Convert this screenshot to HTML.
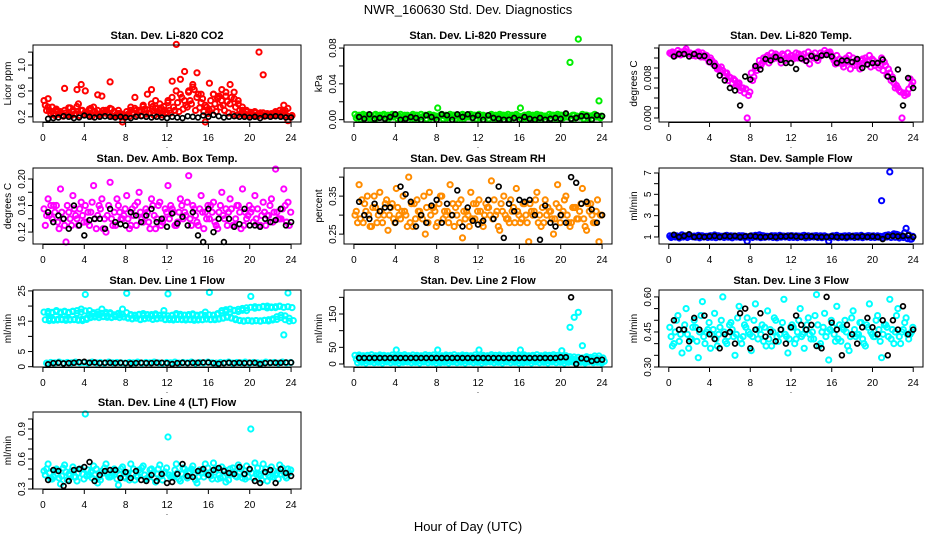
<!DOCTYPE html>
<html><head><meta charset="utf-8"><title>NWR_160630 Std. Dev. Diagnostics</title>
<style>
html,body{margin:0;padding:0;background:#fff;}
svg{display:block;font-family:"Liberation Sans",Arial,sans-serif;}
</style></head>
<body>
<svg id="chart" width="936" height="540" viewBox="0 0 936 540" xmlns="http://www.w3.org/2000/svg">
<rect x="0" y="0" width="936" height="540" fill="#fff"/>
<text x="468" y="14" text-anchor="middle" font-size="13">NWR_160630  Std. Dev. Diagnostics</text>
<text x="468" y="531" text-anchor="middle" font-size="13">Hour of Day (UTC)</text>
</svg>
<script>
// ---------- data (hour-of-day series; colored = all readings, black = reference readings) ----------
const hourTicks = [0,4,8,12,16,20,24];

const co2Red1 = [.45,.48,.35,.30,.28,.64,.26,.30,.62,.70, .60,.30,.35,.54,.52,.30,.74,.28,.30,.12, .28,.35,.50,.30,.38,.55,.62,.45,.40,.30, .45,.75,1.32,.78,.90,.60,.70,.88,.55,.12, .72,.55,.50,.62,.58,.70,.48,.40,.30,.28, .25,.26,1.20,.85,.22,.25,.28,.30,.38,.14];
const co2Red2 = [.38,.30,.25,.28,.22,.26,.34,.24,.40,.30, .26,.33,.28,.24,.30,.26,.32,.22,.25,.20, .24,.26,.30,.28,.32,.25,.36,.28,.34,.25, .30,.35,.42,.50,.38,.45,.62,.55,.48,.35, .45,.40,.52,.38,.44,.50,.35,.30,.26,.22, .24,.22,.26,.21,.24,.22,.25,.23,.30,.20];
const co2Red3 = [.30,.25,.22,.24,.21,.23,.22,.25,.22,.24, .23,.21,.25,.22,.26,.23,.21,.24,.22,.22, .21,.25,.23,.22,.24,.26,.22,.25,.23,.27, .26,.30,.28,.32,.35,.40,.30,.34,.28,.25, .32,.28,.35,.30,.26,.24,.22,.25,.23,.22, .22,.21,.23,.22,.24,.22,.25,.28,.22,.20];
const co2Red4 = [.35,.28,.32,.26,.30,.34,.28,.36,.30,.27, .32,.28,.30,.26,.29,.33,.28,.25,.24,.22, .30,.33,.28,.36,.31,.40,.33,.30,.36,.42, .50,.60,.55,.45,.58,.66,.50,.42,.38,.30, .55,.48,.45,.52,.40,.58,.45,.35,.30,.27, .28,.24,.26,.25,.23,.27,.24,.26,.33,.22];
const co2Black = [.17,.18,.19,.21,.20,.18,.19,.22,.20,.19,.20,.21,.20,.19,.20,.19,.18,.20,.21,.20,.19,.20,.19,.18,.20,.19,.18,.21,.20,.19,.22,.20,.23,.21,.19,.20,.21,.20,.20,.19,.20,.18,.21,.20,.21,.20,.19,.19];

const presGreen1 = [.006,.005,.006,.005,.004,.006,.005,.006,.005,.006, .005,.006,.005,.004,.006,.005,.006,.005,.006,.005, .013,.006,.005,.006,.005,.004,.006,.005,.006,.005, .006,.005,.004,.006,.005,.006,.005,.006,.005,.006, .013,.005,.006,.005,.006,.005,.004,.006,.005,.006, .005,.006,.064,.005,.090,.006,.005,.004,.006,.021];
const presGreen2 = [.002,.001,.003,.002,.001,.002,.003,.001,.002,.003, .001,.002,.003,.002,.001,.002,.003,.001,.002,.002, .003,.001,.002,.003,.001,.002,.001,.003,.002,.001, .002,.003,.001,.002,.001,.002,.003,.001,.002,.003, .001,.002,.003,.002,.001,.002,.003,.001,.002,.001, .002,.003,.001,.002,.003,.001,.002,.001,.003,.002];
const presGreen3 = [.004,.005,.004,.003,.005,.004,.005,.003,.004,.005, .004,.003,.005,.004,.005,.003,.004,.005,.004,.004, .005,.004,.003,.005,.004,.005,.003,.004,.005,.004, .003,.004,.005,.003,.004,.005,.004,.003,.005,.004, .004,.005,.003,.004,.005,.004,.003,.005,.004,.005, .004,.003,.005,.004,.003,.005,.004,.005,.003,.004];
const presBlack = [.003,.001,.006,.001,.002,.001,.003,.006,.000,.001,.003,.002,.000,.005,.003,.000,.006,.005,.000,.006,.003,.006,.002,.005,.000,.005,.002,.001,.000,.000,.002,.000,.003,.001,.000,.002,.000,.001,.002,.001,.007,.001,.002,.004,.004,.000,.005,.004];

const tempMag1 = [.013,.013,.0135,.0132,.0138,.013,.0128,.0132,.013,.0125, .012,.011,.010,.0095,.009,.008,.0075,.007,.006,.000, .009,.010,.0115,.012,.0125,.013,.0128,.012,.0125,.013, .0125,.013,.012,.0128,.0132,.0125,.012,.013,.0135,.013, .012,.0125,.011,.0118,.0125,.012,.0105,.0115,.012,.0125, .0115,.011,.012,.0105,.009,.007,.006,.000,.005,.0078];
const tempMag2 = [.0128,.0125,.013,.0128,.0132,.0126,.0124,.0127,.0122,.0118, .0115,.0105,.0095,.0085,.0075,.007,.0065,.0055,.005,.0045, .0075,.0095,.0105,.0115,.011,.0118,.012,.011,.0115,.012, .0118,.012,.0125,.0115,.0108,.012,.0115,.0125,.0128,.0132, .0115,.011,.0108,.012,.0098,.0105,.0112,.0118,.0108,.0102, .0105,.010,.0095,.0085,.0075,.006,.0055,.005,.0048,.0065];
const tempMag3 = [.0132,.0128,.0126,.0134,.0128,.0125,.013,.0122,.0126,.0112, .0108,.0098,.0102,.009,.0082,.0078,.0068,.006,.0058,.0052, .0082,.0105,.011,.0122,.0118,.0125,.0122,.0128,.012,.0124, .0122,.0128,.0118,.0122,.0126,.013,.0122,.0128,.013,.0126, .0108,.0118,.0102,.0112,.011,.0115,.0098,.011,.0115,.0118, .011,.0105,.0112,.0098,.0082,.0065,.0052,.0045,.0058,.0072];
const tempBlack = [.0123,.0128,.0128,.0123,.0128,.0124,.0124,.0112,.0104,.0085,.0075,.006,.0055,.0025,.0083,.0077,.0104,.0097,.0118,.0115,.0122,.0116,.0110,.0110,.0098,.0119,.0114,.0124,.0120,.0125,.0126,.0123,.0110,.0115,.0115,.0112,.0118,.0100,.0107,.0110,.0110,.0117,.0083,.0078,.0097,.0025,.0080,.0060];

const ambMag1 = [.155,.17,.14,.16,.185,.13,.15,.175,.14,.165, .16,.13,.19,.145,.17,.12,.195,.15,.16,.14, .175,.13,.16,.18,.135,.15,.17,.125,.165,.14, .19,.155,.13,.17,.15,.205,.16,.135,.175,.15, .14,.165,.125,.18,.155,.17,.13,.16,.185,.14, .15,.175,.13,.165,.145,.17,.215,.14,.185,.165];
const ambMag2 = [.13,.145,.16,.135,.15,.105,.14,.155,.13,.145, .135,.15,.14,.16,.125,.145,.14,.13,.15,.145, .14,.155,.13,.15,.145,.135,.16,.14,.13,.155, .14,.15,.135,.16,.145,.14,.155,.13,.15,.14, .16,.135,.15,.145,.13,.155,.14,.15,.13,.145, .155,.14,.13,.15,.145,.135,.15,.14,.16,.13];
const ambMag3 = [.145,.16,.15,.125,.14,.16,.13,.145,.155,.135, .15,.165,.125,.155,.14,.16,.13,.17,.14,.155, .125,.145,.165,.14,.155,.125,.145,.16,.135,.15, .16,.13,.15,.14,.165,.13,.145,.155,.125,.16, .15,.13,.16,.14,.15,.13,.16,.125,.15,.16, .135,.155,.145,.13,.16,.15,.14,.155,.135,.15];
const ambBlack = [.15,.135,.145,.14,.125,.16,.13,.115,.138,.14,.14,.125,.155,.135,.132,.13,.15,.145,.135,.145,.155,.135,.14,.128,.148,.133,.143,.13,.15,.115,.105,.155,.12,.14,.105,.14,.128,.132,.155,.13,.13,.128,.14,.135,.138,.155,.13,.135];

const rhOrange1 = [.30,.38,.28,.35,.27,.32,.36,.30,.26,.33, .37,.29,.31,.40,.27,.34,.30,.25,.36,.32, .28,.35,.30,.38,.27,.33,.24,.31,.36,.29, .34,.27,.32,.39,.30,.26,.35,.29,.31,.37, .28,.33,.23,.30,.36,.27,.34,.31,.25,.38, .30,.35,.27,.32,.29,.37,.26,.33,.28,.23];
const rhOrange2 = [.31,.29,.33,.30,.32,.28,.31,.33,.30,.29, .32,.31,.30,.28,.33,.31,.29,.32,.30,.31, .33,.29,.31,.30,.32,.28,.31,.30,.29,.33, .31,.30,.32,.29,.31,.33,.30,.28,.32,.31, .29,.30,.33,.31,.28,.32,.30,.31,.29,.32, .31,.30,.28,.32,.31,.29,.33,.30,.31,.30];
const rhOrange3 = [.28,.34,.31,.27,.35,.30,.28,.34,.32,.28, .30,.35,.27,.33,.29,.31,.35,.28,.32,.27, .35,.31,.28,.33,.30,.34,.29,.27,.33,.31, .28,.33,.30,.34,.27,.31,.29,.34,.28,.30, .33,.28,.31,.34,.30,.28,.32,.29,.33,.28, .34,.28,.32,.29,.33,.27,.31,.28,.34,.30];
const rhBlack = [.335,.30,.29,.33,.31,.32,.32,.28,.375,.355,.335,.27,.30,.28,.325,.34,.28,.33,.30,.365,.27,.32,.285,.275,.285,.34,.29,.375,.24,.33,.31,.34,.335,.34,.30,.235,.325,.28,.27,.30,.28,.40,.385,.33,.335,.315,.28,.30];

const sampBlue1 = [1.1,1.15,1.05,1.2,1.1,1.12,1.08,1.15,1.1,1.05, 1.12,1.18,1.1,1.05,1.15,1.1,1.08,1.12,1.1,0.6, 1.1,1.15,1.2,1.1,1.05,1.12,1.1,1.15,1.08,1.1, 1.12,1.1,1.05,1.15,1.1,1.08,1.12,1.1,1.1,0.6, 1.1,1.15,1.05,1.1,1.12,1.08,1.1,1.15,1.05,1.1, 1.1,1.1,4.4,1.15,7.1,1.3,1.2,1.1,1.8,0.8];
const sampBlue2 = [0.95,1.0,0.9,1.0,0.95,1.05,0.98,0.92,1.0,0.95, 0.97,0.93,1.0,0.95,0.98,0.92,1.0,0.96,0.94,0.98, 0.95,1.0,0.93,0.97,1.0,0.95,0.92,0.98,1.0,0.95, 0.96,0.94,1.0,0.92,0.97,1.0,0.95,0.93,0.98,0.95, 1.0,0.94,0.97,0.92,1.0,0.95,0.98,0.93,1.0,0.96, 0.95,0.98,0.92,1.0,0.95,0.97,0.9,0.95,0.85,0.8];
const sampBlue3 = [1.05,1.1,1.0,1.08,1.12,1.02,1.06,1.1,1.04,1.08, 1.02,1.1,1.06,1.12,1.04,1.08,1.02,1.1,1.06,1.04, 1.08,1.02,1.12,1.06,1.04,1.1,1.02,1.08,1.06,1.1, 1.04,1.08,1.12,1.02,1.06,1.1,1.04,1.08,1.02,1.06, 1.1,1.04,1.08,1.06,1.02,1.1,1.06,1.04,1.12,1.08, 1.02,1.06,1.1,1.2,1.15,1.25,1.1,1.4,1.2,1.05];
const sampBlack = [1.2,1.0,1.1,1.25,1.0,1.05,1.0,1.05,1.1,1.0,1.1,1.05,1.1,1.0,1.05,1.1,1.05,1.0,1.0,1.05,1.0,1.05,1.05,1.1,1.05,1.0,1.05,1.05,1.0,1.0,1.0,1.05,1.0,1.0,1.0,1.05,1.0,1.05,1.0,1.05,1.0,0.8,1.05,1.1,1.05,1.1,1.15,1.0];

const l1Cyan1 = [18,18.2,17.8,18.5,18,18.3,17.9,18.2,18.5,19, 23.8,18.5,17.5,18,19,17.5,17.8,17,17.5,19, 24.2,17.2,17,17.3,17.5,17,17.2,17.4,17,18.5, 24,17,17.5,17.3,17,17.2,17.4,17,17.2,18, 24.5,17,17.5,18.5,18.8,19,18.5,18.2,18.6,18.5, 23.2,19.8,19.5,19.8,20,19.5,19.8,20,10.5,24.3];
const l1Cyan2 = [15.5,15.8,15.3,15.6,15.5,15.8,15.4,15.6,15.5,15.2, 16,16.5,16.8,17,16.5,16.8,16.2,16.5,17,16.5, 16,15.8,16,15.5,15.8,16,15.6,15.8,16,15.5, 15.5,15.8,15.6,15.5,15.8,15.5,15.3,15.6,15.5,15.8, 15.6,15.5,15.8,16,16.5,16,15.5,15.2,15,15.3, 15,15.2,15,15.3,15.5,15.8,16.5,17,15.5,15];
const l1Cyan3 = [1.2,1.4,1.3,1.5,1.2,1.4,1.3,1.5,1.3,1.4, 1.2,1.5,1.3,1.4,1.2,1.5,1.3,1.4,1.3,1.2, 1.4,1.3,1.5,1.2,1.4,1.3,1.5,1.3,1.2,1.4, 1.3,1.5,1.2,1.4,1.3,1.5,1.2,1.4,1.3,1.5, 1.3,1.2,1.4,1.3,1.5,1.2,1.4,1.3,1.5,1.2, 1.4,1.3,1.2,1.5,1.3,1.4,1.2,1.5,1.3,1.4];
const l1Cyan4 = [17.6,17.9,18.2,17.7,18.1,17.8,18.3,17.6,18,18.4, 17.2,17.8,17.3,17.6,17.9,17.4,17.1,17.6,17.3,17.8, 17,16.8,17.1,16.9,17.2,16.8,17,16.9,17.1,16.8, 16.9,17.1,16.8,17,16.9,17.1,16.8,17,16.9,17.1, 17,17.3,17.8,18.2,18,18.6,18.9,19.2,19.4,19.6, 19.3,19.6,19.9,19.4,19.7,19.5,19.9,19.6,19.8,19.5];
const l1Cyan5 = [15.2,15.6,15.4,15.7,15.3,15.6,15.5,15.3,15.7,15.6, 16.2,16.4,16.2,16.6,16.3,16.4,16.7,16.2,16.4,16.2, 15.8,16.1,15.7,15.9,16.1,15.7,15.9,16.1,15.7,15.9, 15.4,15.6,15.7,15.4,15.6,15.7,15.4,15.5,15.7,15.5, 15.8,15.7,16.1,16.3,16.1,15.8,15.3,15.1,15.2,15.1, 15.2,15.1,15.3,15.1,15.4,15.6,16.2,16.8,16,15.2];
const l1Black = [0.8,1.2,1.3,1.1,1.2,1.3,1.5,1.6,1.3,1.4,1.2,1.3,1.3,1.2,1.3,1.2,1.1,1.2,1.3,1.2,1.2,1.3,1.3,1.2,0.9,1.2,1.3,1.2,1.3,1.3,1.4,1.4,1.2,1.0,1.2,1.3,1.2,1.3,1.2,1.3,1.3,0.9,1.2,1.3,1.3,1.3,1.4,1.4];

const l2Cyan1 = [26,27,25,26,28,25,27,26,25,27, 42,26,28,25,27,26,25,28,26,27, 42,25,27,26,28,25,27,26,25,27, 42,26,25,28,26,27,25,26,28,26, 42,27,25,26,28,25,27,26,28,26, 40,25,110,140,155,55,22,20,24,24];
const l2Cyan2 = [15,14,16,15,14,16,15,14,15,16, 14,15,16,14,15,16,15,14,16,15, 15,14,16,15,14,16,15,14,15,16, 14,15,16,14,15,16,15,14,16,15, 15,14,16,15,14,16,15,14,15,16, 14,15,16,14,12,10,12,14,10,12];
const l2Cyan3 = [4,5,3,6,4,5,3,6,4,5, 3,5,6,4,5,3,6,4,5,3, 4,5,3,6,4,5,3,6,4,5, 3,5,6,4,5,3,6,4,5,3, 4,5,3,6,4,5,3,6,4,5, 3,5,6,4,5,3,6,4,5,3];
const l2Cyan4 = [22,21,23,20,22,21,23,22,20,21, 23,22,21,20,22,23,21,22,20,23, 21,22,23,20,21,22,23,21,20,22, 23,21,22,20,23,21,22,23,20,21, 22,21,23,20,22,21,23,22,20,21, 23,22,21,20,18,16,18,17,16,18];
const l2Cyan5 = [9,10,8,11,9,10,8,11,9,10, 8,10,11,9,10,8,11,9,10,8, 9,10,8,11,9,10,8,11,9,10, 8,10,11,9,10,8,11,9,10,8, 9,10,8,11,9,10,8,11,9,10, 8,10,11,9,7,6,8,7,6,8];
const l2Black = [18,18,18,18,18,18,18,18,18,18,18,18,18,18,18,18,18,18,18,18,18,18,18,18,18,18,18,18,18,18,18,18,18,18,18,18,18,18,18,20,20,200,0,17,15,9,12,13];

const l3Cyan1 = [.47,.40,.52,.36,.55,.42,.50,.34,.58,.45, .38,.53,.44,.60,.40,.49,.35,.56,.43,.51, .37,.57,.46,.41,.54,.39,.50,.44,.59,.36, .48,.42,.55,.38,.51,.45,.61,.40,.53,.33, .47,.56,.41,.50,.37,.54,.44,.49,.39,.57, .43,.52,.34,.48,.59,.40,.55,.45,.51,.44];
const l3Cyan2 = [.43,.45,.41,.46,.44,.42,.47,.45,.43,.46, .44,.42,.47,.45,.43,.46,.44,.42,.48,.45, .43,.46,.44,.47,.42,.45,.43,.46,.44,.42, .47,.45,.43,.46,.44,.42,.48,.45,.43,.46, .44,.42,.47,.45,.43,.46,.44,.42,.48,.45, .43,.46,.44,.47,.42,.45,.43,.46,.44,.45];
const l3Cyan3 = [.39,.50,.44,.48,.38,.47,.41,.52,.40,.49, .46,.39,.50,.41,.48,.43,.51,.40,.47,.44, .50,.42,.48,.39,.46,.51,.41,.49,.43,.47, .40,.50,.44,.48,.42,.52,.39,.47,.45,.50, .41,.48,.46,.39,.51,.43,.49,.40,.47,.44, .50,.41,.48,.43,.46,.52,.40,.49,.42,.47];
const l3Black = [.50,.46,.46,.41,.51,.46,.52,.44,.42,.38,.44,.45,.40,.53,.55,.38,.46,.53,.43,.45,.41,.46,.40,.47,.52,.48,.46,.48,.39,.38,.60,.49,.46,.35,.48,.44,.40,.47,.51,.47,.44,.50,.35,.50,.46,.56,.44,.46];

const l4Cyan1 = [.48,.55,.40,.50,.35,.54,.45,.52,.38,.50, 1.05,.44,.53,.36,.48,.55,.42,.50,.34,.52, .46,.55,.39,.49,.53,.41,.50,.37,.54,.46, .82,.43,.55,.38,.50,.46,.53,.36,.49,.55, .44,.56,.40,.52,.37,.50,.47,.54,.41,.53, .90,.56,.45,.55,.38,.52,.44,.54,.47,.50];
const l4Cyan2 = [.44,.46,.42,.45,.43,.47,.44,.42,.46,.45, .43,.47,.44,.42,.46,.45,.43,.47,.44,.42, .46,.45,.43,.47,.44,.42,.46,.45,.43,.47, .44,.42,.46,.45,.43,.47,.44,.42,.46,.45, .43,.47,.44,.42,.46,.45,.43,.47,.44,.42, .46,.45,.43,.47,.44,.42,.46,.45,.43,.46];
const l4Cyan3 = [.50,.40,.49,.41,.51,.39,.48,.42,.50,.40, .49,.41,.50,.39,.51,.42,.48,.40,.50,.41, .39,.50,.42,.51,.40,.49,.41,.50,.39,.51, .42,.49,.40,.51,.41,.50,.39,.49,.42,.51, .40,.50,.41,.49,.39,.51,.42,.50,.40,.49, .41,.51,.39,.50,.42,.48,.40,.51,.41,.49];
const l4Black = [.39,.49,.48,.33,.38,.49,.50,.52,.57,.38,.44,.48,.49,.49,.41,.47,.41,.48,.39,.38,.44,.38,.45,.36,.37,.45,.55,.43,.42,.48,.50,.44,.49,.51,.48,.46,.45,.52,.45,.50,.38,.36,.47,.49,.36,.50,.46,.43];

// ---------- panel configuration (tick values for each y axis) ----------
const yTicksCO2 = [0.2,0.4,0.6,0.8,1.0,1.2],        yLabCO2 = ["0.2","","0.6","","1.0",""];
const yTicksPres = [0,0.02,0.04,0.06,0.08],         yLabPres = ["0.00","","0.04","","0.08"];
const yTicksTemp = [0,0.002,0.004,0.006,0.008,0.010,0.012,0.014], yLabTemp = ["0.000","","","","0.008","","",""];
const yTicksAmb = [0.12,0.14,0.16,0.18,0.20],       yLabAmb = ["0.12","","0.16","","0.20"];
const yTicksRH = [0.25,0.30,0.35,0.40],             yLabRH = ["0.25","","0.35",""];
const yTicksSamp = [1,2,3,4,5,6,7],                 yLabSamp = ["1","","3","","5","","7"];
const yTicksL1 = [0,5,10,15,20,25],                 yLabL1 = ["0","5","","15","","25"];
const yTicksL2 = [0,50,100,150,200],                yLabL2 = ["0","50","","150",""];
const yTicksL3 = [0.30,0.35,0.40,0.45,0.50,0.55,0.60], yLabL3 = ["0.30","","","0.45","","","0.60"];
const yTicksL4 = [0.3,0.4,0.5,0.6,0.7,0.8,0.9,1.0], yLabL4 = ["0.3","","","0.6","","","0.9",""];

const cols = [[33,301],[344,612],[659,923]];
const rows = [[45,122],[168,244],[290,367],[412,489]];

const panels = [
 {name:'co2', title:'Stan. Dev. Li-820 CO2', ylab:'Licor ppm', c:0,r:0, ymin:0.12,ymax:1.31, yt:yTicksCO2, yl:yLabCO2, color:'#ff0000', colored:[co2Red1,co2Red2,co2Red3,co2Red4], black:co2Black},
 {name:'pressure', title:'Stan. Dev. Li-820 Pressure', ylab:'kPa', c:1,r:0, ymin:-0.0026,ymax:0.0834, yt:yTicksPres, yl:yLabPres, color:'#00ee00', colored:[presGreen1,presGreen2,presGreen3], black:presBlack},
 {name:'li820-temp', title:'Stan. Dev. Li-820 Temp.', ylab:'degrees C', c:2,r:0, ymin:-0.0008,ymax:0.0146, yt:yTicksTemp, yl:yLabTemp, color:'#ff00ff', colored:[tempMag1,tempMag2,tempMag3], black:tempBlack},
 {name:'amb-box-temp', title:'Stan. Dev. Amb. Box Temp.', ylab:'degrees C', c:0,r:1, ymin:0.102,ymax:0.2166, yt:yTicksAmb, yl:yLabAmb, color:'#ff00ff', colored:[ambMag1,ambMag2,ambMag3], black:ambBlack},
 {name:'gas-stream-rh', title:'Stan. Dev. Gas Stream RH', ylab:'percent', c:1,r:1, ymin:0.224,ymax:0.424, yt:yTicksRH, yl:yLabRH, color:'#ff8c00', colored:[rhOrange1,rhOrange2,rhOrange3], black:rhBlack},
 {name:'sample-flow', title:'Stan. Dev. Sample Flow', ylab:'ml/min', c:2,r:1, ymin:0.34,ymax:7.47, yt:yTicksSamp, yl:yLabSamp, color:'#0000ff', colored:[sampBlue1,sampBlue2,sampBlue3], black:sampBlack},
 {name:'line1-flow', title:'Stan. Dev. Line 1 Flow', ylab:'ml/min', c:0,r:2, ymin:-0.1,ymax:25.3, yt:yTicksL1, yl:yLabL1, color:'#00ffff', colored:[l1Cyan1,l1Cyan2,l1Cyan3,l1Cyan4,l1Cyan5], black:l1Black},
 {name:'line2-flow', title:'Stan. Dev. Line 2 Flow', ylab:'ml/min', c:1,r:2, ymin:-9,ymax:222, yt:yTicksL2, yl:yLabL2, color:'#00ffff', colored:[l2Cyan1,l2Cyan2,l2Cyan3,l2Cyan4,l2Cyan5], black:l2Black},
 {name:'line3-flow', title:'Stan. Dev. Line 3 Flow', ylab:'ml/min', c:2,r:2, ymin:0.30,ymax:0.6296, yt:yTicksL3, yl:yLabL3, color:'#00ffff', colored:[l3Cyan1,l3Cyan2,l3Cyan3], black:l3Black},
 {name:'line4-flow', title:'Stan. Dev. Line 4 (LT) Flow', ylab:'ml/min', c:0,r:3, ymin:0.3,ymax:1.07, yt:yTicksL4, yl:yLabL4, color:'#00ffff', colored:[l4Cyan1,l4Cyan2,l4Cyan3], black:l4Black}
];

const NS = 'http://www.w3.org/2000/svg';
const svg = document.getElementById('chart');
function mk(tag, attrs, parent){
  const e = document.createElementNS(NS, tag);
  for (const k in attrs) e.setAttribute(k, attrs[k]);
  (parent||svg).appendChild(e);
  return e;
}

panels.forEach(function(p){
  const bx0 = cols[p.c][0], bx1 = cols[p.c][1], by0 = rows[p.r][0], by1 = rows[p.r][1];
  const xs = function(h){ return bx0 + (h + 0.96) / 25.92 * (bx1 - bx0); };
  const ys = function(v){ return by1 - (v - p.ymin) / (p.ymax - p.ymin) * (by1 - by0); };
  const g = mk('g', {});
  
  

  const t = mk('text', {x:(bx0+bx1)/2, y:by0-6, 'text-anchor':'middle', 'font-size':'11', 'font-weight':'bold'}, g);
  t.textContent = p.title;
  
  

  const yl = mk('text', {x:0, y:0, 'text-anchor':'middle', 'font-size':'10', transform:'translate(' + (bx0-22) + ',' + ((by0+by1)/2) + ') rotate(-90)'}, g);
  yl.textContent = p.ylab;
  
  

  const sg = mk('g', {fill:'none'}, g);
  
  
  p.colored.forEach(function(arr, k){
    arr.forEach(function(v, i){
      const h = 0.1 + k * 0.13 + i * 23.6 / (arr.length - 1);
      const c = mk('circle', {cx:xs(h).toFixed(1), cy:ys(v).toFixed(1), r:'2.6', stroke:p.color, 'stroke-width':'2'}, sg);
      
      
    });
  });
  p.black.forEach(function(v, i){
    const h = 0.5 + i * 0.5;
    const c = mk('circle', {cx:xs(h).toFixed(1), cy:ys(v).toFixed(1), r:'2.4', stroke:'#000', 'stroke-width':'1.7'}, sg);
    
    
  });

  const box = mk('rect', {x:bx0, y:by0, width:bx1-bx0, height:by1-by0, fill:'none', stroke:'#000', 'stroke-width':'1'}, g);
  
  

  const xa = mk('g', {}, g);
  
  
  mk('line', {x1:xs(hourTicks[0]), x2:xs(hourTicks[hourTicks.length-1]), y1:by1+0.5, y2:by1+0.5, stroke:'#000'}, xa);
  hourTicks.forEach(function(h){
    mk('line', {x1:xs(h), x2:xs(h), y1:by1, y2:by1+5, stroke:'#000'}, xa);
    const lt = mk('text', {x:xs(h), y:by1+19, 'text-anchor':'middle', 'font-size':'10'}, xa);
    lt.textContent = String(h);
    
    
  });
  const dot = mk('text', {x:(bx0+bx1)/2, y:by1+26, 'text-anchor':'middle', 'font-size':'8'}, xa);
  dot.textContent = '.';

  const ya = mk('g', {}, g);
  
  
  mk('line', {x1:bx0-0.5, x2:bx0-0.5, y1:ys(p.yt[0]), y2:ys(p.yt[p.yt.length-1]), stroke:'#000'}, ya);
  p.yt.forEach(function(v, i){
    const y = ys(v);
    mk('line', {x1:bx0-5, x2:bx0, y1:y, y2:y, stroke:'#000'}, ya);
    if (p.yl[i]) {
      const lt = mk('text', {x:0, y:0, 'text-anchor':'middle', 'font-size':'10', transform:'translate(' + (bx0-8) + ',' + y + ') rotate(-90)'}, ya);
      lt.textContent = p.yl[i];
      
      
    }
  });
});
</script>
</body></html>
